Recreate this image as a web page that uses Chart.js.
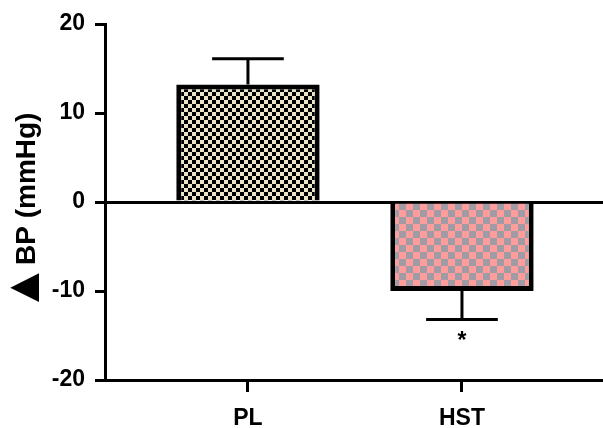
<!DOCTYPE html>
<html><head><meta charset="utf-8">
<script src="https://cdn.jsdelivr.net/npm/chart.js@4"></script>
<style>html,body{margin:0;padding:0;background:#fff;}#wrap{width:603px;height:428px;position:relative;}</style>
</head><body><div id="wrap"><canvas id="c"></canvas></div>
<script>
const categories = ['PL', 'HST'];
const meanValues = [13.2, -10.0];
const errorValues = [2.9, 3.2];
const significance = ['', '*'];
const yTickValues = [-20, -10, 0, 10, 20];
const titleSymbol = '▲';
const titleText = 'BP (mmHg)';

function checker(c1, c2, cell) {
  const cv = document.createElement('canvas');
  cv.width = cell * 2; cv.height = cell * 2;
  const g = cv.getContext('2d');
  g.fillStyle = c1; g.fillRect(0, 0, cell * 2, cell * 2);
  g.fillStyle = c2; g.fillRect(0, 0, cell, cell); g.fillRect(cell, cell, cell, cell);
  return g.createPattern(cv, 'repeat');
}
const ctx0 = document.getElementById('c').getContext('2d');
const fills = [checker('#ece4c6', '#000000', 4), checker('#ff9c9c', '#a09ca6', 7)];

const FONT = "'Liberation Sans', Arial, sans-serif";

const errorBars = {
  id: 'errorBars',
  afterDatasetsDraw(chart) {
    const ctx = chart.ctx;
    const meta = chart.getDatasetMeta(0);
    const ys = chart.scales.y;
    ctx.save();
    ctx.strokeStyle = '#000';
    ctx.lineWidth = 3;
    meta.data.forEach((bar, i) => {
      const m = meanValues[i];
      const end = m >= 0 ? m + errorValues[i] : m - errorValues[i];
      const y0 = ys.getPixelForValue(m);
      const y1 = ys.getPixelForValue(end);
      const half = bar.width / 4;
      ctx.beginPath();
      ctx.moveTo(bar.x, y0); ctx.lineTo(bar.x, y1);
      ctx.moveTo(bar.x - half, y1); ctx.lineTo(bar.x + half, y1);
      ctx.stroke();
      if (significance[i]) {
        ctx.fillStyle = '#000';
        ctx.font = 'bold 23px ' + FONT;
        ctx.textAlign = 'center';
        ctx.textBaseline = 'alphabetic';
        ctx.fillText(significance[i], bar.x, y1 + 29);
      }
    });
    ctx.restore();
  }
};

const yTitle = {
  id: 'yTitle',
  afterDraw(chart) {
    const ctx = chart.ctx;
    const ca = chart.chartArea;
    const cy = (ca.top + ca.bottom) / 2;
    ctx.save();
    ctx.fillStyle = '#000';
    ctx.rotate(-Math.PI / 2);
    ctx.font = 'bold 28px ' + FONT;
    ctx.textAlign = 'left';
    ctx.textBaseline = 'alphabetic';
    ctx.fillText(titleText, -(cy + 63), 35);
    ctx.font = 'bold 100px ' + FONT;
    let mt = ctx.measureText(titleSymbol);
    const w100 = mt.actualBoundingBoxLeft + mt.actualBoundingBoxRight;
    const size = 100 * 29 / w100;
    ctx.font = 'bold ' + size.toFixed(1) + 'px ' + FONT;
    mt = ctx.measureText(titleSymbol);
    const startY = cy + 101;
    ctx.fillText(titleSymbol, -startY + mt.actualBoundingBoxLeft, 39 - mt.actualBoundingBoxDescent);
    ctx.restore();
  }
};

new Chart(ctx0, {
  type: 'bar',
  data: {
    datasets: [{
      data: categories.map((c, i) => ({ x: i, y: meanValues[i] })),
      backgroundColor: fills,
      borderColor: '#000',
      borderWidth: 5,
      borderSkipped: 'start',
      barPercentage: 0.67,
      categoryPercentage: 1
    }]
  },
  options: {
    responsive: true,
    maintainAspectRatio: false,
    animation: false,
    layout: { padding: { top: 24, right: 0, bottom: 0, left: 0 } },
    plugins: { legend: { display: false }, tooltip: { enabled: false } },
    scales: {
      x: {
        type: 'linear',
        offset: false,
        min: -0.668,
        max: 1.659,
        afterBuildTicks: s => { s.ticks = categories.map((c, i) => ({ value: i })); },
        afterFit: s => { s.height = 48; },
        ticks: {
          callback: v => categories[v],
          font: { family: FONT, size: 23, weight: 'bold' },
          color: '#000',
          padding: 13,
          autoSkip: false,
          maxRotation: 0
        },
        grid: { offset: false, drawOnChartArea: false, tickLength: 12, tickColor: '#000', tickWidth: 3 },
        border: { color: '#000', width: 3 }
      },
      y: {
        min: -20,
        max: 20,
        afterBuildTicks: s => { s.ticks = yTickValues.map(v => ({ value: v })); },
        afterFit: s => { s.width = 105; },
        ticks: {
          font: { family: FONT, size: 23, weight: 'bold' },
          color: '#000',
          padding: 10
        },
        grid: {
          color: c => (c.tick && c.tick.value === 0) ? '#000' : 'rgba(0,0,0,0)',
          lineWidth: 3,
          tickColor: '#000',
          tickWidth: 3,
          tickLength: 10
        },
        border: { color: '#000', width: 3 },
        title: { display: false }
      }
    }
  },
  plugins: [errorBars, yTitle]
});
</script>
</body></html>
